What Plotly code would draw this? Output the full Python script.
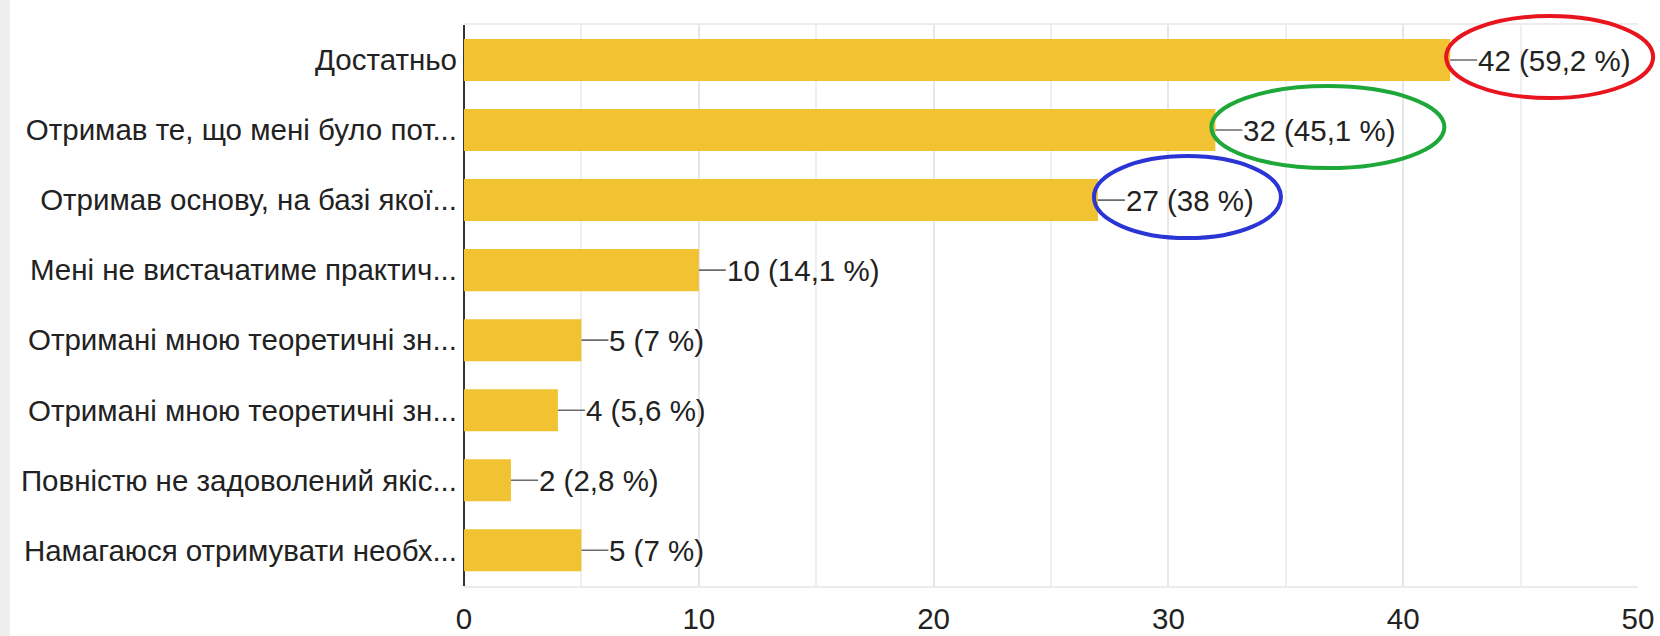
import plotly.graph_objects as go

categories = [
    "Достатньо",
    "Отримав те, що мені було пот...",
    "Отримав основу, на базі якої...",
    "Мені не вистачатиме практич...",
    "Отримані мною теоретичні зн...",
    "Отримані мною теоретичні зн...",
    "Повністю не задоволений якіс...",
    "Намагаюся отримувати необх...",
]
counts = [42, 32, 27, 10, 5, 4, 2, 5]
percents = ["59,2", "45,1", "38", "14,1", "7", "5,6", "2,8", "7"]
x_ticks = [0, 10, 20, 30, 40, 50]
highlight_idx = [0, 1, 2]
highlight_colors = ["#e8141e", "#1fa83a", "#2b35d6"]

FONT = "Arial, Liberation Sans, sans-serif"
FS = 29.5
W, H = 1660, 636
ML, MR, MT, MB = 464, 22, 25, 50
XMAX = 50
YR = [7.51, -0.5]

pos = list(range(len(categories)))
labels = [f"{c} ({p} %)" for c, p in zip(counts, percents)]

fig = go.Figure()
fig.add_trace(go.Bar(
    x=counts, y=pos, orientation="h", width=0.6,
    marker=dict(color="#F1C232", line=dict(width=0)),
    hoverinfo="skip",
))

for i, (v, t) in enumerate(zip(counts, labels)):
    fig.add_annotation(
        x=v, y=i, xref="x", yref="y", text=t, showarrow=True,
        arrowhead=0, arrowwidth=1.6, arrowcolor="#6b6b6b",
        ax=27, ay=0, xanchor="left", yanchor="middle",
        font=dict(family=FONT, size=FS, color="#222222"),
        borderpad=0,
    )

# highlight ellipses around the first three labels (paper coords from data)
pw = W - ML - MR
ph = H - MT - MB
def xp(v):
    return v / XMAX
def yp(v):
    return (YR[0] - v) / (YR[0] - YR[1])
ell_w = {0: 207, 1: 233, 2: 187}
for k, col in zip(highlight_idx, highlight_colors):
    v = counts[k]
    x0 = xp(v) - 4 / pw
    x1 = x0 + ell_w[k] / pw
    yc = yp(k) + 3 / ph
    hh = 41 / ph
    fig.add_shape(type="circle", xref="paper", yref="paper",
                  x0=x0, x1=x1, y0=yc - hh, y1=yc + hh,
                  line=dict(color=col, width=4), layer="above")

# faint left strip artifact
fig.add_shape(type="rect", xref="paper", yref="paper",
              x0=-ML / pw, x1=(-ML + 10) / pw, y0=-MB / ph, y1=1 + MT / ph,
              fillcolor="#eeeeee", line=dict(width=0), layer="below")

fig.update_layout(
    width=W, height=H,
    margin=dict(l=ML, r=MR, t=MT, b=MB, pad=0),
    paper_bgcolor="white", plot_bgcolor="white",
    showlegend=False,
    font=dict(family=FONT, size=FS, color="#222222"),
    xaxis=dict(
        range=[0, XMAX], tickvals=x_ticks, ticktext=[str(t) for t in x_ticks],
        showgrid=True, gridcolor="#e6e6e6", gridwidth=1.5,
        minor=dict(dtick=5, showgrid=True, gridcolor="#efefef", gridwidth=1.5),
        zeroline=True, zerolinecolor="#333333", zerolinewidth=2,
        showline=True, mirror=True, linecolor="#ececec", linewidth=1.5,
        ticks="", ticklabelstandoff=6,
        tickfont=dict(size=FS, color="#222222"),
        fixedrange=True, automargin=False,
    ),
    yaxis=dict(
        range=YR, tickvals=pos, ticktext=categories,
        showgrid=False, zeroline=False, showline=False, ticks="",
        ticklabelstandoff=6,
        tickfont=dict(size=FS, color="#222222"), fixedrange=True,
        automargin=False,
    ),
)

fig.write_html(
    "out.html",
    config={"displayModeBar": False},
    post_script="document.body.style.margin='0px';document.body.style.overflow='hidden';",
)
